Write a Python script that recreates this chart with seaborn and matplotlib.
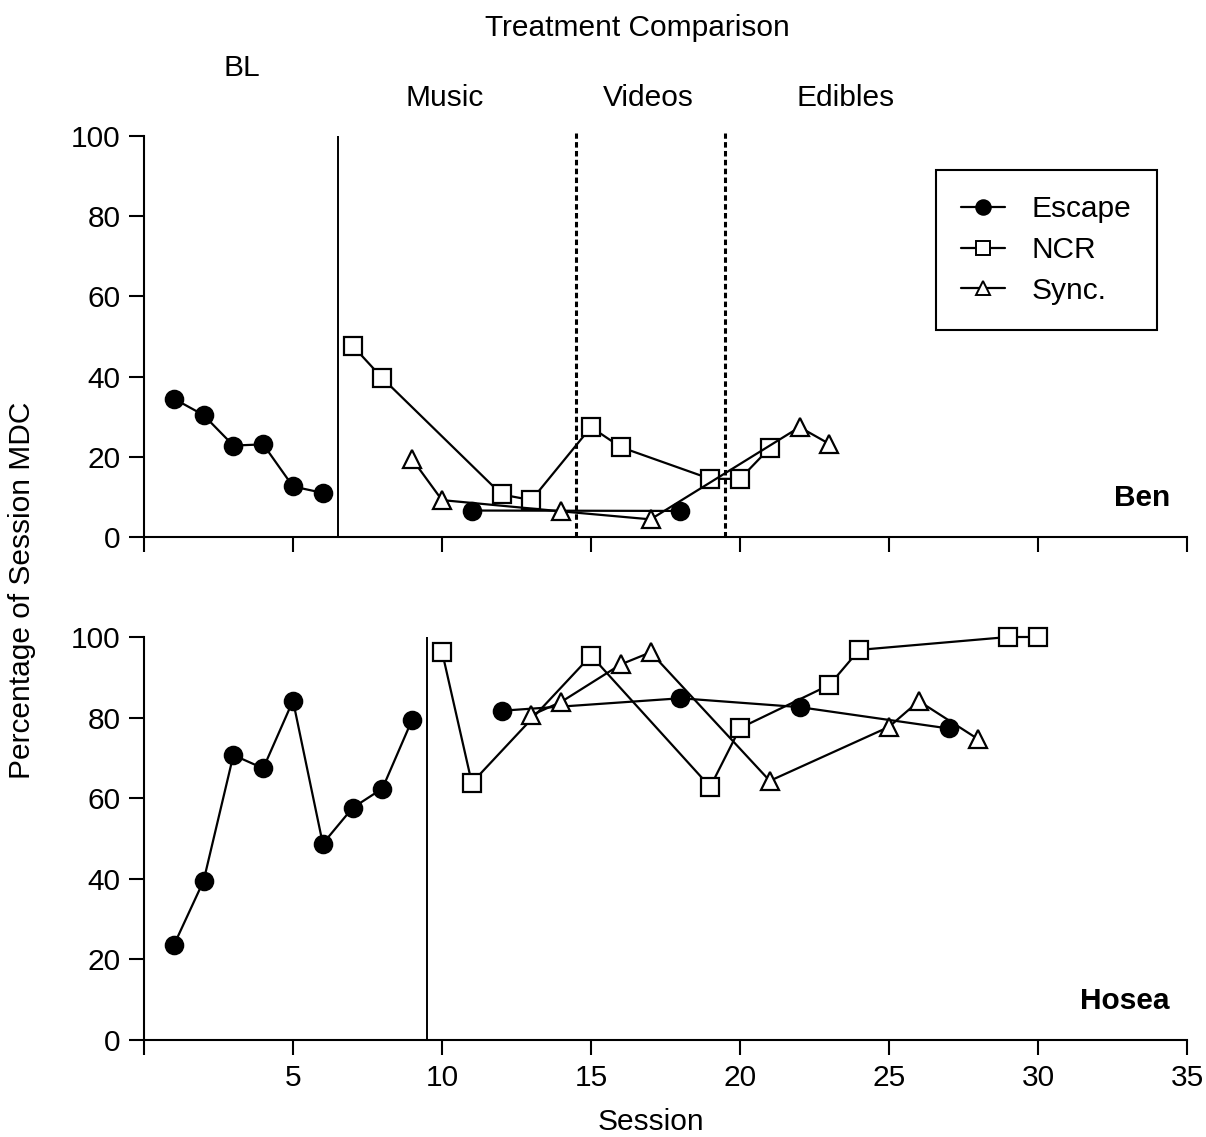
import numpy as np
import matplotlib
matplotlib.use("Agg")
import matplotlib.pyplot as plt
from matplotlib.lines import Line2D
import seaborn as sns

# Ben (baseline and treatment segments are drawn apart)
ben_esc_bl_x = [1, 2, 3, 4, 5, 6]
ben_esc_bl_y = [34.5, 30.4, 22.8, 23.1, 12.6, 11.0]
ben_esc_x = [11, 18]
ben_esc_y = [6.6, 6.5]
ben_ncr_x = [7, 8, 12, 13, 15, 16, 19, 20, 21]
ben_ncr_y = [47.7, 39.6, 10.6, 9.2, 27.4, 22.4, 14.5, 14.5, 22.2]
ben_syn_x = [9, 10, 14, 17, 22, 23]
ben_syn_y = [19.4, 9.2, 6.4, 4.4, 27.4, 23.2]

# Hosea
hos_esc_bl_x = [1, 2, 3, 4, 5, 6, 7, 8, 9]
hos_esc_bl_y = [23.5, 39.5, 70.7, 67.4, 84.2, 48.7, 57.6, 62.4, 79.5]
hos_esc_x = [12, 18, 22, 27]
hos_esc_y = [81.7, 84.8, 82.6, 77.3]
hos_ncr_x = [10, 11, 15, 19, 20, 23, 24, 29, 30]
hos_ncr_y = [96.4, 63.8, 95.4, 62.8, 77.4, 88.1, 96.8, 100, 100]
hos_syn_x = [13, 14, 16, 17, 21, 25, 26, 28]
hos_syn_y = [80.6, 83.9, 93.2, 96.2, 64.3, 77.7, 84.1, 74.6]

series_names = ["Escape", "NCR", "Sync."]
phase_names = ["BL", "Music", "Videos", "Edibles"]
ben_phase_x = [6.5, 14.5, 19.5]
hos_phase_x = [9.5]

sns.set_style("ticks")
plt.rcParams["font.family"] = ["Liberation Sans", "DejaVu Sans"]
plt.rcParams["text.color"] = "black"
FS = 21.5

styles = {
    "Escape": dict(marker="o", markerfacecolor="black", markersize=12.5),
    "NCR": dict(marker="s", markerfacecolor="white", markersize=12.5),
    "Sync.": dict(marker="^", markerfacecolor="white", markersize=13.5),
}

fig = plt.figure(figsize=(12.06, 11.37), dpi=100)
W, H = 1206, 1137
ax_top = fig.add_axes([144 / W, 1 - 537 / H, (1187 - 144) / W, (537 - 136) / H])
ax_bot = fig.add_axes([144 / W, 1 - 1040 / H, (1187 - 144) / W, (1040 - 637) / H])


def draw(ax, data):
    for name, (xs, ys) in data:
        st = styles[name]
        sns.lineplot(x=xs, y=ys, ax=ax, color="black", linewidth=1.6,
                     markeredgecolor="black", markeredgewidth=1.6,
                     estimator=None, sort=False, clip_on=False, zorder=3, **st)
    ax.set_xlim(0, 35)
    ax.set_ylim(0, 100)
    ax.set_xticks(range(0, 36, 5))
    ax.set_yticks(range(0, 101, 20))
    sns.despine(ax=ax)
    for s in ["left", "bottom"]:
        ax.spines[s].set_linewidth(1.5)
        ax.spines[s].set_color("black")
    ax.tick_params(direction="out", length=11, width=1.5, colors="black",
                   labelsize=FS, pad=6)
    ax.set_xlabel("")
    ax.set_ylabel("")


draw(ax_top, [("Escape", (ben_esc_bl_x, ben_esc_bl_y)), ("Escape", (ben_esc_x, ben_esc_y)),
              ("NCR", (ben_ncr_x, ben_ncr_y)), ("Sync.", (ben_syn_x, ben_syn_y))])
draw(ax_bot, [("Escape", (hos_esc_bl_x, hos_esc_bl_y)), ("Escape", (hos_esc_x, hos_esc_y)),
              ("NCR", (hos_ncr_x, hos_ncr_y)), ("Sync.", (hos_syn_x, hos_syn_y))])

ax_top.set_xticklabels([])
ax_bot.set_xticklabels([""] + [str(v) for v in range(5, 36, 5)])

# phase lines
ax_top.axvline(ben_phase_x[0], ymin=0, ymax=1, color="black", lw=1.4, zorder=2)
for xv in ben_phase_x[1:]:
    ax_top.axvline(xv, ymin=0, ymax=1.008, color="black", lw=2.2,
                   linestyle=(0, (1.8, 1.1)), zorder=2, clip_on=False)
ax_bot.axvline(hos_phase_x[0], ymin=0, ymax=1, color="black", lw=1.4, zorder=2)

# texts
fig.text(637 / W, 1 - 28 / H, "Treatment Comparison", ha="center", va="center", fontsize=FS)
fig.text(242 / W, 1 - 68 / H, phase_names[0], ha="center", va="center", fontsize=FS)
fig.text(445 / W, 1 - 98 / H, phase_names[1], ha="center", va="center", fontsize=FS)
fig.text(648 / W, 1 - 98 / H, phase_names[2], ha="center", va="center", fontsize=FS)
fig.text(846 / W, 1 - 98 / H, phase_names[3], ha="center", va="center", fontsize=FS)
fig.text(1170 / W, 1 - 498 / H, "Ben", ha="right", va="center", fontsize=FS, fontweight="bold")
fig.text(1170 / W, 1 - 1001 / H, "Hosea", ha="right", va="center", fontsize=FS, fontweight="bold")
fig.text(651 / W, 1 - 1122 / H, "Session", ha="center", va="center", fontsize=FS)
fig.text(22 / W, 1 - 590 / H, "Percentage of Session MDC", ha="center", va="center",
         rotation=90, fontsize=FS)

handles = [Line2D([], [], color="black", lw=1.6, markeredgecolor="black",
                  markeredgewidth=1.4, **{**styles[n], "markersize": 10.5})
           for n in series_names]
leg = ax_top.legend(handles, series_names, loc="upper right",
                    bbox_to_anchor=(0.971, 0.915), fontsize=FS, frameon=True,
                    fancybox=False, edgecolor="black", framealpha=1,
                    handlelength=1.45, handletextpad=0.9, labelspacing=0.42,
                    borderpad=0.85, borderaxespad=0)
leg.get_frame().set_linewidth(1.5)
for t in leg.get_texts():
    t.set_color("black")

fig.savefig("out.png", dpi=100)
